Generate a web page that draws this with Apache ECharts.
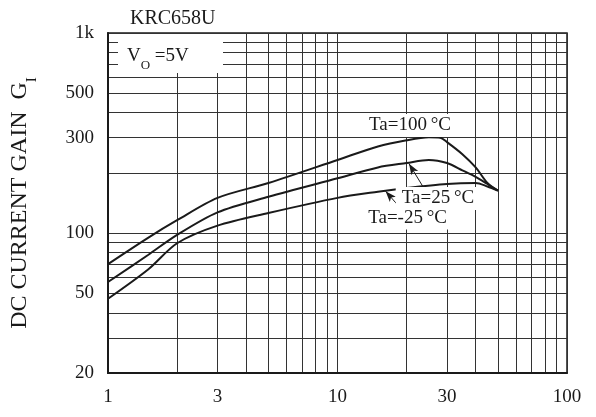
<!DOCTYPE html>
<html>
<head>
<meta charset="utf-8">
<script src="https://cdn.jsdelivr.net/npm/echarts@6/dist/echarts.min.js"></script>
<style>
html, body { margin: 0; padding: 0; background: #fff; }
#chart { width: 596px; height: 417px; }
</style>
</head>
<body>
<div id="chart"></div>
<script>
// axis labels and grid lines
const xLabels = [1, 3, 10, 30, 100];
const yLabels = [20, 50, 100, 300, 500, 1000];
const xGrid = [1, 2, 3, 4, 5, 6, 7, 8, 9, 10, 20, 30, 40, 50, 60, 70, 80, 90, 100];
const yGrid = [20, 30, 40, 50, 60, 70, 80, 90, 100, 200, 300, 400, 500, 600, 700, 800, 900, 1000];

// output current Io (mA) and DC current gain
const ioTa100 = [1, 1.5, 2, 3, 5, 10, 15, 20, 25, 28, 30, 35, 40, 45, 50];
const gainTa100 = [70, 95, 116, 150, 178, 232, 271, 291, 301, 300, 285, 248, 213, 178, 163];
const ioTa25 = [1, 1.5, 2, 3, 5, 10, 15, 20, 25, 30, 35, 40, 45, 50];
const gainTa25 = [57, 78, 98, 127, 152, 188, 213, 224, 232, 224, 206, 191, 176, 163];
const ioTaM25 = [1, 1.5, 2, 3, 5, 10, 15, 20, 30, 40, 45, 50];
const gainTaM25 = [47, 66, 89, 109, 126, 150, 161, 168, 176, 178, 171, 163];

const serif = 'Liberation Serif';
const pair = (xs, ys) => xs.map((x, i) => [x, ys[i]]);

const chart = echarts.init(document.getElementById('chart'));

const curve = (name, xs, ys, extra) => Object.assign({
    name: name,
    type: 'line',
    data: pair(xs, ys),
    smooth: 0.3,
    showSymbol: false,
    lineStyle: { color: '#1a1a1a', width: 2 },
    z: 3
}, extra);

const tagLabel = (text) => ({
    show: true,
    position: 'inside',
    formatter: text,
    color: '#1a1a1a',
    fontFamily: serif,
    fontSize: 19,
    backgroundColor: '#fff',
    padding: [2, 6]
});

const arrow = (from, to) => ({
    silent: true,
    symbol: ['none', 'arrow'],
    symbolSize: [6, 11],
    label: { show: false },
    lineStyle: { color: '#1a1a1a', width: 1, type: 'solid' },
    data: [[{ coord: from }, { coord: to }]]
});

const option = {
    animation: false,
    backgroundColor: '#fff',
    textStyle: { fontFamily: serif },
    title: {
        text: 'KRC658U',
        left: 125,
        top: 4,
        textStyle: { fontFamily: serif, fontWeight: 'normal', fontSize: 20, color: '#1a1a1a' }
    },
    grid: {
        left: 106, right: 29, top: 33, bottom: 44,
        show: true, borderColor: '#1a1a1a', borderWidth: 1.5
    },
    xAxis: {
        type: 'log',
        logBase: 10,
        min: 1,
        max: 100,
        axisLine: { lineStyle: { color: '#1a1a1a', width: 2 } },
        axisTick: { show: false, customValues: xGrid },
        splitLine: { show: true, lineStyle: { color: '#333', width: 1 } },
        axisLabel: {
            customValues: xLabels,
            color: '#1a1a1a', fontFamily: serif, fontSize: 19, margin: 15
        }
    },
    yAxis: {
        type: 'log',
        logBase: 10,
        min: 20,
        max: 1000,
        name: '{a|DC CURRENT GAIN  G}{s|I}',
        nameLocation: 'middle',
        nameGap: 74,
        nameRotate: 90,
        nameTextStyle: {
            rich: {
                a: { fontFamily: serif, fontSize: 24, color: '#1a1a1a', lineHeight: 28 },
                s: { fontFamily: serif, fontSize: 15, color: '#1a1a1a', lineHeight: 28, verticalAlign: 'bottom', padding: [0, 0, -6, 0] }
            }
        },
        axisLine: { lineStyle: { color: '#1a1a1a', width: 2 } },
        axisTick: { show: false, customValues: yGrid },
        splitLine: { show: true, lineStyle: { color: '#333', width: 1 } },
        axisLabel: {
            customValues: yLabels,
            color: '#1a1a1a', fontFamily: serif, fontSize: 19, margin: 14,
            formatter: v => (v >= 1000 ? (v / 1000) + 'k' : String(v))
        }
    },
    graphic: [
        { type: 'rect', z: 10, shape: { x: 118, y: 34, width: 105, height: 39 }, style: { fill: '#fff' } },
        {
            type: 'text', z: 11, x: 127, y: 45,
            style: {
                text: '{v|V}{s|O}{v| =5V}',
                rich: {
                    v: { fontFamily: serif, fontSize: 19, fill: '#1a1a1a', lineHeight: 22 },
                    s: { fontFamily: serif, fontSize: 13, fill: '#1a1a1a', lineHeight: 22, verticalAlign: 'bottom', padding: [0, 0, -5, 0] }
                }
            }
        }
    ],
    series: [
        curve('Ta=100', ioTa100, gainTa100, {
            markPoint: {
                symbol: 'rect', symbolSize: 1, itemStyle: { color: 'transparent' },
                data: [{ coord: [20.7, 345], label: tagLabel('Ta=100\u2009°C') }]
            }
        }),
        curve('Ta=25', ioTa25, gainTa25, {
            markLine: arrow([24, 165], [20.5, 222]),
            markPoint: {
                symbol: 'rect', symbolSize: 1, itemStyle: { color: 'transparent' },
                data: [{ coord: [27.4, 149], label: tagLabel('Ta=25\u2009°C') }]
            }
        }),
        curve('Ta=-25', ioTaM25, gainTaM25, {
            markLine: arrow([19.4, 128], [16.2, 162]),
            markPoint: {
                symbol: 'rect', symbolSize: 1, itemStyle: { color: 'transparent' },
                data: [{ coord: [20.2, 119], label: tagLabel('Ta=-25\u2009°C') }]
            }
        })
    ]
};

chart.setOption(option);
window.addEventListener('resize', () => { chart.resize(); });
</script>
</body>
</html>
